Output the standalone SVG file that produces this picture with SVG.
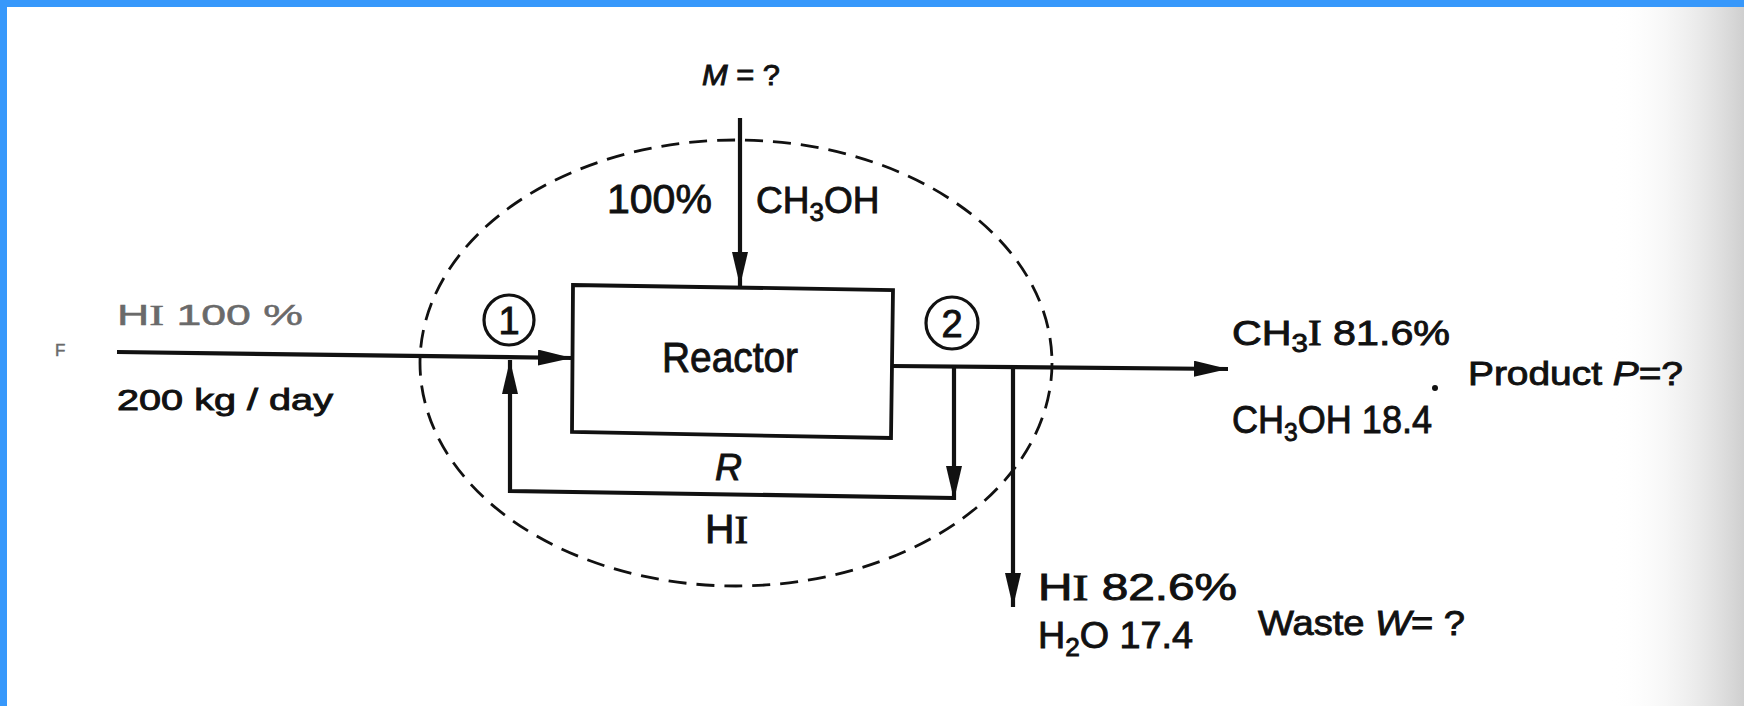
<svg xmlns="http://www.w3.org/2000/svg" width="1744" height="706" viewBox="0 0 1744 706">
<style>
  text { font-family: "Liberation Sans", Arial, sans-serif; fill: #111; stroke: #111; stroke-width: 0.9; }
  .ln { stroke: #111; stroke-width: 4.2; fill: none; }
  .box { stroke: #111; stroke-width: 3.8; fill: #fff; }
  .circ { stroke: #111; stroke-width: 3.2; fill: #fff; }
  .bnd { stroke: #111; stroke-width: 2.8; fill: none; stroke-dasharray: 18 10; }
  .faint { fill: #6a6a6a; stroke: #6a6a6a; stroke-width: 0.5; }
  .it { font-style: italic; }
  .si { font-family: "Liberation Serif", "Times New Roman", serif; }
</style>
<defs>
  <marker id="ah" markerUnits="userSpaceOnUse" markerWidth="36" markerHeight="18" refX="34" refY="8" orient="auto">
    <path d="M0,0 L34,8 L0,16 Z" fill="#111"/>
  </marker>
  <linearGradient id="scan" x1="0" y1="0" x2="1" y2="0">
    <stop offset="0" stop-color="#ffffff" stop-opacity="0"/>
    <stop offset="1" stop-color="#cfcfcf" stop-opacity="1"/>
  </linearGradient>
</defs>
<rect x="0" y="0" width="1744" height="706" fill="#ffffff"/>
<rect x="1610" y="0" width="134" height="706" fill="url(#scan)"/>
<rect x="0" y="0" width="1744" height="7" fill="#3798fb"/>
<rect x="0" y="0" width="7" height="706" fill="#3798fb"/>

<g id="boundary">
  <ellipse cx="736" cy="363" rx="316" ry="223" class="bnd"/>
</g>

<g id="connectors">
  <line x1="740" y1="118" x2="740" y2="286" class="ln" marker-end="url(#ah)"/>
  <line x1="117" y1="352" x2="572" y2="358" class="ln" marker-end="url(#ah)"/>
  <line x1="892" y1="366" x2="1228" y2="369" class="ln" marker-end="url(#ah)"/>
  <line x1="954" y1="366" x2="954" y2="500" class="ln" marker-end="url(#ah)"/>
  <polyline points="954,498 510,491 510,360" class="ln" marker-end="url(#ah)"/>
  <line x1="1013" y1="367" x2="1013" y2="607" class="ln" marker-end="url(#ah)"/>
</g>

<g id="reactor">
  <path d="M573,285 L893,290 L891,438 L572,432 Z" class="box"/>
  <text x="662" y="372" font-size="42" textLength="136" lengthAdjust="spacingAndGlyphs">Reactor</text>
</g>

<g id="point1">
  <circle cx="509" cy="320" r="25" class="circ"/>
  <text x="509" y="334" font-size="38" text-anchor="middle">1</text>
</g>

<g id="point2">
  <circle cx="952" cy="323" r="26" class="circ"/>
  <text x="952" y="337" font-size="38" text-anchor="middle">2</text>
</g>

<g id="feed">
  <text x="55" y="356" font-size="17" class="faint">F</text>
  <text x="117" y="325" font-size="29" class="faint" textLength="186" lengthAdjust="spacingAndGlyphs">H<tspan class="si">I</tspan>  100 %</text>
  <text x="117" y="410" font-size="30" textLength="216" lengthAdjust="spacingAndGlyphs">200 kg / day</text>
</g>

<g id="makeup">
  <text x="702" y="85" font-size="29" textLength="78" lengthAdjust="spacingAndGlyphs"><tspan class="it">M</tspan> = ?</text>
  <text x="607" y="213" font-size="41">100%</text>
  <text x="756" y="213" font-size="37">CH<tspan font-size="26" dy="8">3</tspan><tspan dy="-8">OH</tspan></text>
</g>

<g id="recycle">
  <text x="715" y="480" font-size="37" class="it" textLength="27" lengthAdjust="spacingAndGlyphs">R</text>
  <text x="705" y="543" font-size="40" textLength="43" lengthAdjust="spacingAndGlyphs">H<tspan class="si">I</tspan></text>
</g>

<g id="product">
  <text x="1232" y="345" font-size="35" textLength="218" lengthAdjust="spacingAndGlyphs">CH<tspan font-size="25" dy="7">3</tspan><tspan dy="-7" class="si">I</tspan>  81.6%</text>
  <text x="1232" y="433" font-size="38" textLength="200" lengthAdjust="spacingAndGlyphs">CH<tspan font-size="26" dy="8">3</tspan><tspan dy="-8">OH 18.4</tspan></text>
  <circle cx="1435" cy="388" r="3" fill="#111"/>
  <text x="1468" y="385" font-size="34" textLength="215" lengthAdjust="spacingAndGlyphs">Product  <tspan class="it">P</tspan>=?</text>
</g>

<g id="waste">
  <text x="1038" y="600" font-size="36" textLength="199" lengthAdjust="spacingAndGlyphs">H<tspan class="si">I</tspan>  82.6%</text>
  <text x="1038" y="648" font-size="36" textLength="155" lengthAdjust="spacingAndGlyphs">H<tspan font-size="25" dy="8">2</tspan><tspan dy="-8">O 17.4</tspan></text>
  <text x="1258" y="635" font-size="35" textLength="207" lengthAdjust="spacingAndGlyphs">Waste  <tspan class="it">W</tspan>= ?</text>
</g>
</svg>
